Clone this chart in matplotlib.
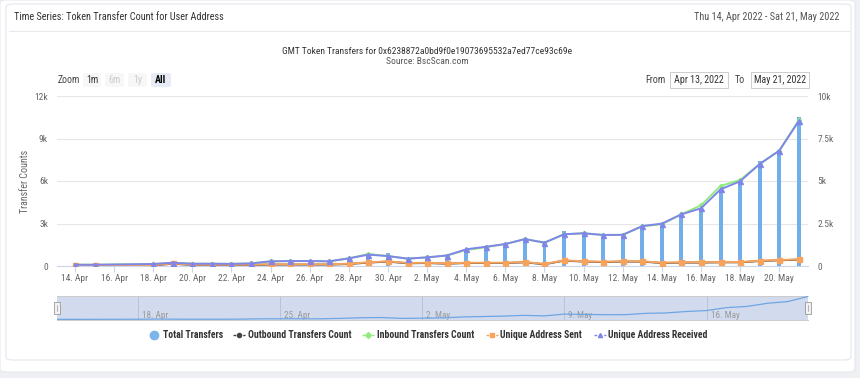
import numpy as np
import matplotlib
matplotlib.use("Agg")
import matplotlib.pyplot as plt
import matplotlib.dates as mdates
from matplotlib.patches import FancyBboxPatch, Rectangle
from matplotlib.lines import Line2D
from matplotlib import font_manager

# ---------------- data ----------------
dates = ["2022-04-14", "2022-04-15", "2022-04-18", "2022-04-19", "2022-04-20", "2022-04-21",
         "2022-04-22", "2022-04-23", "2022-04-24", "2022-04-25", "2022-04-26", "2022-04-27",
         "2022-04-28", "2022-04-29", "2022-04-30", "2022-05-01", "2022-05-02", "2022-05-03",
         "2022-05-04", "2022-05-05", "2022-05-06", "2022-05-07", "2022-05-08", "2022-05-09",
         "2022-05-10", "2022-05-11", "2022-05-12", "2022-05-13", "2022-05-14", "2022-05-15",
         "2022-05-16", "2022-05-17", "2022-05-18", "2022-05-19", "2022-05-20", "2022-05-21"]

total_transfers = [100, 100, 150, 240, 170, 170, 160, 190, 340, 360, 360, 340, 560, 820, 930,
                   540, 630, 760, 1200, 1380, 1570, 1920, 1670, 2490, 2340, 2210, 2220, 2850,
                   3010, 3670, 4100, 5450, 6000, 7430, 8200, 10540]
outbound_count = [55, 55, 45, 160, 75, 75, 75, 75, 100, 100, 100, 100, 140, 240, 310, 190, 210,
                  160, 210, 210, 210, 260, 120, 380, 310, 280, 310, 310, 210, 240, 240, 260, 260,
                  350, 400, 450]
inbound_count = [90, 90, 140, 230, 160, 160, 150, 180, 330, 350, 350, 330, 540, 850, 700, 520,
                 610, 740, 1130, 1320, 1550, 1900, 1650, 2240, 2310, 2190, 2200, 2800, 2950, 3650,
                 4280, 5650, 6070, 7200, 8140, 10300]
unique_sent = [70, 70, 60, 180, 90, 90, 90, 90, 120, 120, 120, 120, 160, 260, 330, 210, 230, 180,
               230, 230, 230, 280, 140, 400, 330, 300, 330, 330, 230, 260, 260, 280, 280, 370,
               420, 470]
unique_received = [90, 90, 140, 230, 160, 160, 150, 180, 330, 350, 350, 330, 540, 800, 700, 520,
                   610, 740, 1180, 1360, 1550, 1900, 1650, 2240, 2310, 2190, 2200, 2820, 2990,
                   3650, 4070, 5410, 5980, 7200, 8140, 10230]

left_ticks = [0, 3000, 6000, 9000, 12000]
left_labels = ["0", "3k", "6k", "9k", "12k"]
right_labels = ["0", "2.5k", "5k", "7.5k", "10k"]
series_names = ["Total Transfers", "Outbound Transfers Count", "Inbound Transfers Count",
                "Unique Address Sent", "Unique Address Received"]
zoom_buttons = ["1m", "6m", "1y", "All"]
nav_labels = ["2022-04-18", "2022-04-25", "2022-05-02", "2022-05-09", "2022-05-16"]

# ---------------- fonts ----------------
narrow = None
for f in font_manager.fontManager.ttflist:
    if ("Narrow" in f.name or "Condensed" in f.name) and "DejaVu" not in f.name:
        narrow = f.name
        if "Liberation" in f.name:
            break
if narrow:
    plt.rcParams["font.family"] = [narrow, "DejaVu Sans"]
    K = 1.0
else:
    plt.rcParams["font.family"] = ["Liberation Sans", "DejaVu Sans"]
    K = 0.84

W, H = 860, 378
fig = plt.figure(figsize=(W / 100, H / 100), dpi=100)
fig.patch.set_facecolor("#eef0f4")


def fx(x):
    return x / W


def fy(y):
    return 1 - y / H


# cards
fig.add_artist(FancyBboxPatch((fx(0), fy(372)), fx(855), (372 - 0) / H,
                              boxstyle="round,pad=0,rounding_size=0.008",
                              transform=fig.transFigure, facecolor="white",
                              edgecolor="#e6e8ee", linewidth=0.8, zorder=0))
fig.add_artist(FancyBboxPatch((fx(6), fy(360)), fx(845), (360 - 4) / H,
                              boxstyle="round,pad=0,rounding_size=0.008",
                              transform=fig.transFigure, facecolor="white",
                              edgecolor="#e4e6ee", linewidth=0.8, zorder=0))
fig.add_artist(Line2D([fx(9), fx(849)], [fy(31), fy(31)], transform=fig.transFigure,
                      color="#e8e9ef", lw=0.8))

fig.text(fx(14), fy(17), "Time Series: Token Transfer Count for User Address",
         fontsize=7.4 * K, color="#333333", va="center", ha="left")
fig.text(fx(839), fy(17), "Thu 14, Apr 2022 - Sat 21, May 2022",
         fontsize=7.4 * K, color="#555555", va="center", ha="right")
fig.text(fx(427), fy(51), "GMT Token Transfers for 0x6238872a0bd9f0e19073695532a7ed77ce93c69e",
         fontsize=6.8 * K, color="#333333", va="center", ha="center")
fig.text(fx(427), fy(61), "Source: BscScan.com", fontsize=6.8 * K, color="#555555",
         va="center", ha="center")

# zoom buttons
fig.text(fx(58), fy(80), "Zoom", fontsize=7.0 * K, color="#444444", va="center", ha="left")
btn_x = [(83, 101), (105, 124), (128, 147), (151, 171)]
for (x0, x1), lab in zip(btn_x, zoom_buttons):
    if lab == "All":
        fc, tc, wt = "#e6ebf5", "#000000", "bold"
    elif lab == "1m":
        fc, tc, wt = "#f7f7f7", "#333333", "normal"
    else:
        fc, tc, wt = "#f7f7f7", "#cccccc", "normal"
    fig.add_artist(FancyBboxPatch((fx(x0), fy(87)), fx(x1 - x0), 14 / H,
                                  boxstyle="round,pad=0,rounding_size=0.004",
                                  transform=fig.transFigure, facecolor=fc, edgecolor="none"))
    fig.text(fx((x0 + x1) / 2), fy(80), lab, fontsize=7.2 * K, color=tc, weight=wt,
             va="center", ha="center")

fig.text(fx(665), fy(80), "From", fontsize=7.2 * K, color="#444444", va="center", ha="right")
fig.add_artist(Rectangle((fx(670), fy(88)), fx(58), 16 / H, transform=fig.transFigure,
                         facecolor="white", edgecolor="#cccccc", lw=0.7))
fig.text(fx(699), fy(80), "Apr 13, 2022", fontsize=7.2 * K, color="#333333", va="center",
         ha="center")
fig.text(fx(745), fy(80), "To", fontsize=7.2 * K, color="#444444", va="center", ha="right")
fig.add_artist(Rectangle((fx(751), fy(88)), fx(58), 16 / H, transform=fig.transFigure,
                         facecolor="white", edgecolor="#cccccc", lw=0.7))
fig.text(fx(780), fy(80), "May 21, 2022", fontsize=7.2 * K, color="#333333", va="center",
         ha="center")

# ---------------- main chart ----------------
d = np.array(dates, dtype="datetime64[D]")
xd = mdates.date2num(d.astype("datetime64[ms]").astype(object))
start = mdates.date2num(np.datetime64("2022-04-14").astype("datetime64[ms]").astype(object))

ax = fig.add_axes([fx(57), fy(266), 751 / W, 170 / H])
ax.set_facecolor("none")
ax.set_xlim(start - 0.92, start + 37.47)
ax.set_ylim(0, 12000)
ax.set_yticks(left_ticks)
ax.set_yticklabels(left_labels)
ax.grid(axis="y", color="#e6e6e6", lw=0.8)
ax.set_axisbelow(True)
for s in ["top", "right", "left"]:
    ax.spines[s].set_visible(False)
ax.spines["bottom"].set_color("#ccd6eb")
ax.spines["bottom"].set_linewidth(0.8)
ax.tick_params(axis="y", length=0, labelsize=6.8 * K, labelcolor="#666666", pad=6.5)
xt = [start + 2 * i for i in range(19)]
ax.set_xticks(xt)
ax.set_xticklabels([mdates.num2date(v).strftime("%-d. %b") for v in xt])
ax.tick_params(axis="x", length=4, color="#ccd6eb", labelsize=6.8 * K, labelcolor="#666666",
               pad=2)
ax.set_ylabel("Transfer Counts", fontsize=7.2 * K, color="#666666", labelpad=3)

ax.bar(xd, total_transfers, width=0.2, color="#72aeea", edgecolor="none", zorder=2,
       label=series_names[0])
ax.plot(xd, outbound_count, color="#434348", lw=1.4, marker="o", ms=2.5, zorder=3)
ax.plot(xd, inbound_count, color="#90ed7d", lw=1.4, marker="D", ms=2.2, zorder=4)
ax.plot(xd, unique_sent, color="#f7a35c", lw=1.4, marker="s", ms=3.6, zorder=5)
ax.plot(xd, unique_received, color="#8085e9", lw=1.4, marker="^", ms=3.6, zorder=6)

ax2 = ax.twinx()
ax2.set_ylim(0, 10000)
ax2.set_yticks([0, 2500, 5000, 7500, 10000])
ax2.set_yticklabels(right_labels)
for s in ax2.spines.values():
    s.set_visible(False)
ax2.tick_params(axis="y", length=0, labelsize=6.8 * K, labelcolor="#666666", pad=7)

# ---------------- navigator ----------------
nav = fig.add_axes([fx(57), fy(320), 751 / W, 24 / H])
nav.set_facecolor("#d2dbee")
nav.set_xlim(start, start + 37)
nav.set_ylim(-200, max(total_transfers) * 1.02)
nav.set_yticks([])
nl = mdates.date2num(np.array(nav_labels, dtype="datetime64[ms]").astype(object))
nav.set_xticks(nl)
nav.set_xticklabels([])
nav.tick_params(axis="x", length=0)
for v in nl:
    nav.axvline(v, color="#b8c2d8", lw=0.7, zorder=1)
    nav.text(v + 0.2, -150, mdates.num2date(v).strftime("%-d. %b"), fontsize=6.6 * K,
             color="#999999", ha="left", va="bottom", zorder=2)
nav.plot(xd, total_transfers, color="#6fa5e3", lw=0.9, zorder=3)
for s in ["left", "right"]:
    nav.spines[s].set_visible(False)
for s in ["top", "bottom"]:
    nav.spines[s].set_color("#cccccc")
    nav.spines[s].set_linewidth(0.7)
for hx in (57, 808):
    fig.add_artist(Rectangle((fx(hx - 3), fy(314)), fx(6), 12 / H, transform=fig.transFigure,
                             facecolor="#f2f2f2", edgecolor="#999999", lw=0.6, zorder=5))
    fig.add_artist(Line2D([fx(hx), fx(hx)], [fy(311), fy(305)], transform=fig.transFigure,
                          color="#999999", lw=0.5, zorder=6))

# ---------------- legend ----------------
ly = fy(335)
leg_items = [
    (154, 163, "#7cb5ec", "o", series_names[0], False),
    (239, 248, "#434348", "o", series_names[1], True),
    (368, 377, "#90ed7d", "D", series_names[2], True),
    (492, 500, "#f7a35c", "s", series_names[3], True),
    (600, 608, "#8085e9", "^", series_names[4], True),
]
for cx, tx, col, mk, name, has_line in leg_items:
    if has_line:
        fig.add_artist(Line2D([fx(cx - 6), fx(cx + 6)], [ly, ly], transform=fig.transFigure,
                              color=col, lw=1.0, ls=(0, (2, 1.5))))
        fig.add_artist(Line2D([fx(cx)], [ly], transform=fig.transFigure, color=col,
                              marker=mk, ms=3, lw=0))
    else:
        fig.add_artist(Line2D([fx(cx)], [ly], transform=fig.transFigure, color=col,
                              marker="o", ms=6, lw=0))
    fig.text(fx(tx), ly, name, fontsize=7.0 * K, weight="bold", color="#333333",
             va="center", ha="left")

fig.savefig("out.png", dpi=100, facecolor=fig.get_facecolor())
